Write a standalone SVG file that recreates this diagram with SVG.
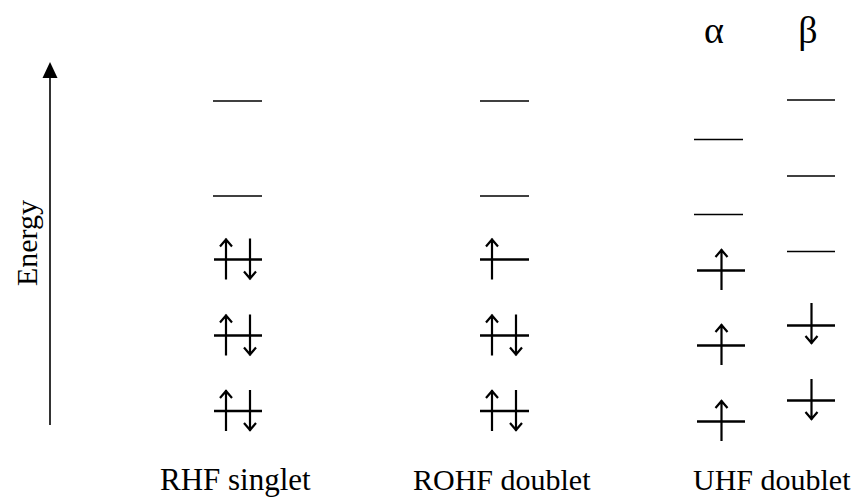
<svg xmlns="http://www.w3.org/2000/svg" width="861" height="498" viewBox="0 0 861 498">
<defs>
<style>
.lbl{font-family:"Liberation Serif","Times New Roman",serif;fill:#000}
.empty{stroke:#000;stroke-width:1.6;fill:none}
.occ{stroke:#000;stroke-width:2.6;fill:none}
.spin{stroke:#000;stroke-width:2.2;fill:none}
.axis{stroke:#000;stroke-width:1.6;fill:none}
</style>
<g id="up"><path class="spin" d="M0,-21 V20 M-6,-13 L0,-20 L6,-13"/></g>
<g id="dn"><path class="spin" d="M0,-21 V20 M-6,12 L0,19 L6,12"/></g>
</defs>
<rect width="861" height="498" fill="#fff"/>

<g id="axis">
<line class="axis" x1="50" y1="425" x2="50" y2="64"/>
<path d="M42.5,78 L50,62 L57.5,78 Z" fill="#000"/>
<text class="lbl" font-size="30" text-anchor="middle" transform="translate(37,243) rotate(-90)">Energy</text>
</g>

<g id="rhf">
<line class="empty" x1="213" y1="101" x2="262" y2="101"/>
<line class="empty" x1="213" y1="196" x2="262" y2="196"/>
<line class="occ" x1="214" y1="259.5" x2="262" y2="259.5"/>
<line class="occ" x1="214" y1="335.5" x2="262" y2="335.5"/>
<line class="occ" x1="214" y1="411" x2="262" y2="411"/>
<use href="#up" x="226" y="259.5"/><use href="#dn" x="250" y="259.5"/>
<use href="#up" x="226" y="335.5"/><use href="#dn" x="250" y="335.5"/>
<use href="#up" x="226" y="411"/><use href="#dn" x="250" y="411"/>
<text class="lbl" font-size="31" x="160" y="490">RHF singlet</text>
</g>

<g id="rohf">
<line class="empty" x1="480" y1="101" x2="529" y2="101"/>
<line class="empty" x1="480" y1="196" x2="529" y2="196"/>
<line class="occ" x1="480" y1="259.5" x2="529" y2="259.5"/>
<line class="occ" x1="480" y1="335.5" x2="529" y2="335.5"/>
<line class="occ" x1="480" y1="411" x2="529" y2="411"/>
<use href="#up" x="492" y="259.5"/>
<use href="#up" x="492" y="335.5"/><use href="#dn" x="516" y="335.5"/>
<use href="#up" x="492" y="411"/><use href="#dn" x="516" y="411"/>
<text class="lbl" font-size="30" x="413" y="490">ROHF doublet</text>
</g>

<g id="uhf-alpha">
<text class="lbl" font-size="38" x="714" y="43" text-anchor="middle">α</text>
<line class="empty" x1="694" y1="139.5" x2="743" y2="139.5"/>
<line class="empty" x1="694" y1="214.5" x2="743" y2="214.5"/>
<line class="occ" x1="697" y1="270.5" x2="745" y2="270.5"/>
<line class="occ" x1="697" y1="345.5" x2="745" y2="345.5"/>
<line class="occ" x1="697" y1="421.5" x2="745" y2="421.5"/>
<use href="#up" x="721.5" y="270"/>
<use href="#up" x="721.5" y="345"/>
<use href="#up" x="721.5" y="421"/>
</g>

<g id="uhf-beta">
<text class="lbl" font-size="38" x="808" y="43" text-anchor="middle">β</text>
<line class="empty" x1="787" y1="100" x2="835" y2="100"/>
<line class="empty" x1="787" y1="176" x2="835" y2="176"/>
<line class="empty" x1="787" y1="251.5" x2="835" y2="251.5"/>
<line class="occ" x1="787" y1="325.5" x2="835" y2="325.5"/>
<line class="occ" x1="787" y1="400.5" x2="835" y2="400.5"/>
<use href="#dn" x="811.5" y="324"/>
<use href="#dn" x="811.5" y="400"/>
</g>

<text class="lbl" font-size="30" x="693" y="490">UHF doublet</text>
</svg>
